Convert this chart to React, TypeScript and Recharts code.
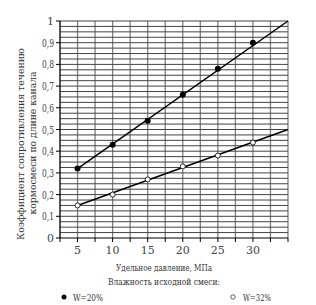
import {
  ComposedChart,
  Line,
  Scatter,
  XAxis,
  YAxis,
  CartesianGrid,
  ReferenceLine,
} from 'recharts'

// measured points
const W20 = [
  { x: 5, y: 0.32 },
  { x: 10, y: 0.43 },
  { x: 15, y: 0.54 },
  { x: 20, y: 0.66 },
  { x: 25, y: 0.78 },
  { x: 30, y: 0.9 },
]
const W32 = [
  { x: 5, y: 0.15 },
  { x: 10, y: 0.2 },
  { x: 15, y: 0.27 },
  { x: 20, y: 0.33 },
  { x: 25, y: 0.38 },
  { x: 30, y: 0.44 },
]
// trend lines
const TREND20 = [
  { x: 5, y: 0.32 },
  { x: 35, y: 1.0 },
]
const TREND32 = [
  { x: 5, y: 0.15 },
  { x: 35, y: 0.5 },
]

const X_TICKS = [2.5, 5, 7.5, 10, 12.5, 15, 17.5, 20, 22.5, 25, 27.5, 30, 32.5, 35]
const X_LABELS = [5, 10, 15, 20, 25, 30]
const Y_TICKS = [0, 0.1, 0.2, 0.3, 0.4, 0.5, 0.6, 0.7, 0.8, 0.9, 1]
const Y_GRID = Array.from({ length: 40 }, (_, i) => Math.round((i + 1) * 25) / 1000)

const FONT = 'DejaVu Serif'

const XTick = (props: any) => {
  const { x, y, payload } = props
  if (!X_LABELS.includes(payload.value)) return null
  return (
    <text x={x} y={y + 10} textAnchor="middle" fontFamily={FONT} fontSize={11} fill="#444">
      {payload.value}
    </text>
  )
}

const YTick = (props: any) => {
  const { x, y, payload } = props
  const label = String(payload.value).replace('.', ',')
  return (
    <text
      x={x}
      y={y + 4}
      textAnchor="end"
      fontFamily={FONT}
      fontSize={11}
      fill="#444"
      textLength={label.length > 1 ? 12 : undefined}
      lengthAdjust="spacingAndGlyphs"
    >
      {label}
    </text>
  )
}

const YTitle = () => (
  <g fontFamily={FONT} fontSize={10} fill="#333">
    <text x={0} y={0} transform="translate(24,144) rotate(-90)" textAnchor="middle" textLength={192} lengthAdjust="spacingAndGlyphs">
      Коэффициент сопротивления течению
    </text>
    <text x={0} y={0} transform="translate(36,143) rotate(-90)" textAnchor="middle" textLength={143} lengthAdjust="spacingAndGlyphs">
      кормосмеси по длине канала
    </text>
  </g>
)

// axis title, subtitle and legend under the plot
const BottomTexts = () => (
  <g fontFamily={FONT} fontSize={10} fill="#333">
    <text x={164} y={271} textAnchor="middle" textLength={96} lengthAdjust="spacingAndGlyphs">
      Удельное давление, МПа
    </text>
    <text x={164} y={285} textAnchor="middle" textLength={112} lengthAdjust="spacingAndGlyphs">
      Влажность исходной смеси:
    </text>
    <circle cx={64} cy={297} r={2.5} fill="#000" />
    <text x={73} y={301} textLength={30} lengthAdjust="spacingAndGlyphs">
      W=20%
    </text>
    <circle cx={233} cy={297} r={2.2} fill="#fff" stroke="#333" strokeWidth={0.8} />
    <text x={243} y={301} textLength={28} lengthAdjust="spacingAndGlyphs">
      W=32%
    </text>
  </g>
)

export default function App() {
  return (
    <div style={{ position: 'relative', width: 316, height: 305, background: '#fff' }}>
      <style>{'body{margin:0}'}</style>
      <ComposedChart width={316} height={305} margin={{ top: 21, right: 28, bottom: 0, left: 0 }}>
        <CartesianGrid horizontal={false} stroke="#808080" strokeWidth={1.3} />
        {Y_GRID.map((v) => (
          <ReferenceLine key={v} y={v} stroke="#444" strokeWidth={1} ifOverflow="extendDomain" />
        ))}
        <XAxis
          dataKey="x"
          type="number"
          domain={[2.5, 35]}
          ticks={X_TICKS}
          interval={0}
          height={67}
          allowDuplicatedCategory={false}
          axisLine={{ stroke: '#000' }}
          tickLine={{ stroke: '#000' }}
          tickSize={4}
          tick={<XTick />}
          label={<BottomTexts />}
        />
        <YAxis
          type="number"
          domain={[0, 1]}
          ticks={Y_TICKS}
          interval={0}
          width={60}
          axisLine={{ stroke: '#000' }}
          tickLine={{ stroke: '#000' }}
          tickSize={4}
          tickMargin={2}
          tick={<YTick />}
          label={<YTitle />}
        />
        <Line
          data={TREND20}
          dataKey="y"
          type="linear"
          stroke="#000"
          strokeWidth={1.5}
          dot={false}
          activeDot={false}
          isAnimationActive={false}
        />
        <Line
          data={TREND32}
          dataKey="y"
          type="linear"
          stroke="#000"
          strokeWidth={1.5}
          dot={false}
          activeDot={false}
          isAnimationActive={false}
        />
        <Scatter
          data={W20}
          dataKey="y"
          fill="#000"
          shape={(p: any) => <circle cx={p.cx} cy={p.cy} r={3} fill="#000" />}
          isAnimationActive={false}
        />
        <Scatter
          data={W32}
          dataKey="y"
          fill="#fff"
          shape={(p: any) => <circle cx={p.cx} cy={p.cy} r={2.5} fill="#fff" stroke="#000" strokeWidth={0.8} />}
          isAnimationActive={false}
        />
      </ComposedChart>
    </div>
  )
}
